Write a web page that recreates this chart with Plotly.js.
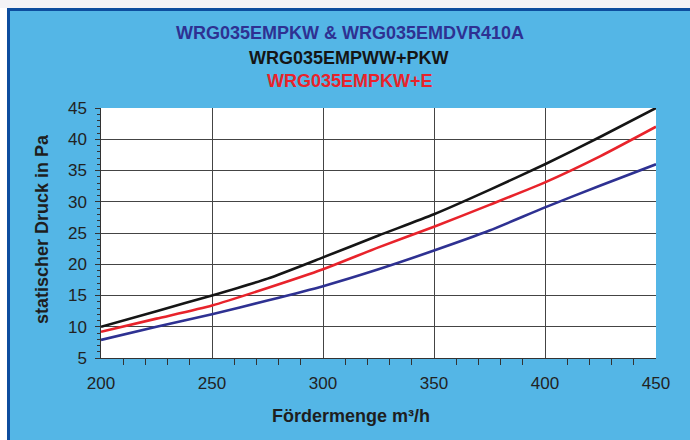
<!DOCTYPE html>
<html>
<head>
<meta charset="utf-8">
<script src="https://cdn.plot.ly/plotly-3.0.1.min.js"></script>
<style>
  html, body { margin: 0; padding: 0; background: #ffffff; }
  #chart { width: 690px; height: 440px; }
</style>
</head>
<body>
<div id="chart"></div>
<script>
// Data
const flow = [200, 225, 250, 275, 300, 325, 350, 375, 400, 425, 450];
const pressureEMPWW_PKW = [10.0, 12.5, 15.0, 17.7, 21.1, 24.6, 28.0, 31.9, 36.0, 40.4, 45.0];
const pressureEMPKW_E   = [9.2, 11.3, 13.4, 16.2, 19.2, 22.7, 26.0, 29.5, 33.1, 37.3, 42.0];
const pressureEMPKW_DVR = [7.9, 10.0, 12.0, 14.2, 16.5, 19.2, 22.2, 25.4, 29.1, 32.6, 36.0];

const titleLines = ["WRG035EMPKW & WRG035EMDVR410A", "WRG035EMPWW+PKW", "WRG035EMPKW+E"];
const xTitle = "Fördermenge m³/h";
const yTitle = "statischer Druck in Pa";

const colBlue = "#2e3192";
const colBlack = "#151515";
const colRed = "#e8232b";
const bgBlue = "#54b6e6";
const fontFam = "Liberation Sans, Arial, sans-serif";

// pixel -> paper helpers (plot area: x 101..656, y 108..358)
const L = 101, R = 656, T = 108, B = 358;
const px = p => (p - L) / (R - L);
const py = p => (B - p) / (B - T);

const traces = [
  {x: flow, y: pressureEMPKW_DVR, name: titleLines[0], mode: "lines",
   line: {color: colBlue, width: 2.6, shape: "spline", smoothing: 0.6}},
  {x: flow, y: pressureEMPKW_E, name: titleLines[2], mode: "lines",
   line: {color: colRed, width: 2.6, shape: "spline", smoothing: 0.6}},
  {x: flow, y: pressureEMPWW_PKW, name: titleLines[1], mode: "lines",
   line: {color: colBlack, width: 2.6, shape: "spline", smoothing: 0.6}}
];

const layout = {
  width: 690, height: 440,
  margin: {l: L, r: 690 - R, t: T, b: 440 - B, pad: 0},
  paper_bgcolor: bgBlue,
  plot_bgcolor: "#ffffff",
  showlegend: false,
  font: {family: fontFam, color: "#222222", size: 16},
  xaxis: {
    range: [200, 450], dtick: 50, tick0: 200,
    showgrid: true, gridcolor: "#444444", gridwidth: 1,
    showline: true, linecolor: "#333333", linewidth: 1,
    ticks: "outside", ticklen: 10, tickcolor: "rgba(0,0,0,0)",
    minor: {dtick: 10, ticks: "outside", ticklen: 6, tickcolor: "#333333", showgrid: false},
    tickfont: {size: 17, color: "#222222"},
    zeroline: false, fixedrange: true
  },
  xaxis2: {
    range: [200, 450], dtick: 50, tick0: 200, overlaying: "x", anchor: "y", side: "bottom",
    showgrid: false, showline: false, showticklabels: false,
    ticks: "outside", ticklen: 6, tickcolor: "#333333",
    zeroline: false, fixedrange: true
  },
  yaxis: {
    range: [5, 45], dtick: 5, tick0: 5,
    showgrid: true, gridcolor: "#444444", gridwidth: 1,
    showline: true, linecolor: "#333333", linewidth: 1,
    ticks: "outside", ticklen: 5, tickcolor: "#333333",
    ticksuffix: "\u00a0",
    minor: {dtick: 1, ticks: "outside", ticklen: 3, tickcolor: "#333333", showgrid: false},
    tickfont: {size: 17, color: "#222222"},
    zeroline: false, fixedrange: true
  },
  shapes: [
    // white margin top and left
    {type: "rect", xref: "paper", yref: "paper", x0: px(-20), x1: px(720), y0: py(8), y1: py(-20),
     fillcolor: "#f3f3f6", line: {width: 0}, layer: "above"},
    {type: "rect", xref: "paper", yref: "paper", x0: px(-20), x1: px(7), y0: py(460), y1: py(8),
     fillcolor: "#ffffff", line: {width: 0}, layer: "above"},
    // dark blue frame
    {type: "line", xref: "paper", yref: "paper", x0: px(7), x1: px(720), y0: py(9.5), y1: py(9.5),
     line: {color: "#0d4d9e", width: 3}, layer: "above"},
    {type: "line", xref: "paper", yref: "paper", x0: px(8.5), x1: px(8.5), y0: py(8), y1: py(460),
     line: {color: "#0d4d9e", width: 3}, layer: "above"}
  ],
  annotations: [
    {text: "<b>" + titleLines[0] + "</b>", xref: "paper", yref: "paper", x: px(350), y: py(33),
     xanchor: "center", yanchor: "middle", showarrow: false,
     font: {family: fontFam, size: 18, color: colBlue}},
    {text: "<b>" + titleLines[1] + "</b>", xref: "paper", yref: "paper", x: px(349), y: py(58),
     xanchor: "center", yanchor: "middle", showarrow: false,
     font: {family: fontFam, size: 18, color: colBlack}},
    {text: "<b>" + titleLines[2] + "</b>", xref: "paper", yref: "paper", x: px(350), y: py(81.5),
     xanchor: "center", yanchor: "middle", showarrow: false,
     font: {family: fontFam, size: 18, color: colRed}},
    {text: "<b>" + xTitle + "</b>", xref: "paper", yref: "paper", x: px(350.5), y: py(416),
     xanchor: "center", yanchor: "middle", showarrow: false,
     font: {family: fontFam, size: 18, color: "#1e1e1e"}},
    {text: "<b>" + yTitle + "</b>", xref: "paper", yref: "paper", x: px(42), y: py(229),
     xanchor: "center", yanchor: "middle", showarrow: false, textangle: -90,
     font: {family: fontFam, size: 18, color: "#1e1e1e"}}
  ]
};

Plotly.newPlot("chart", traces, layout, {displayModeBar: false, staticPlot: true});
</script>
</body>
</html>
